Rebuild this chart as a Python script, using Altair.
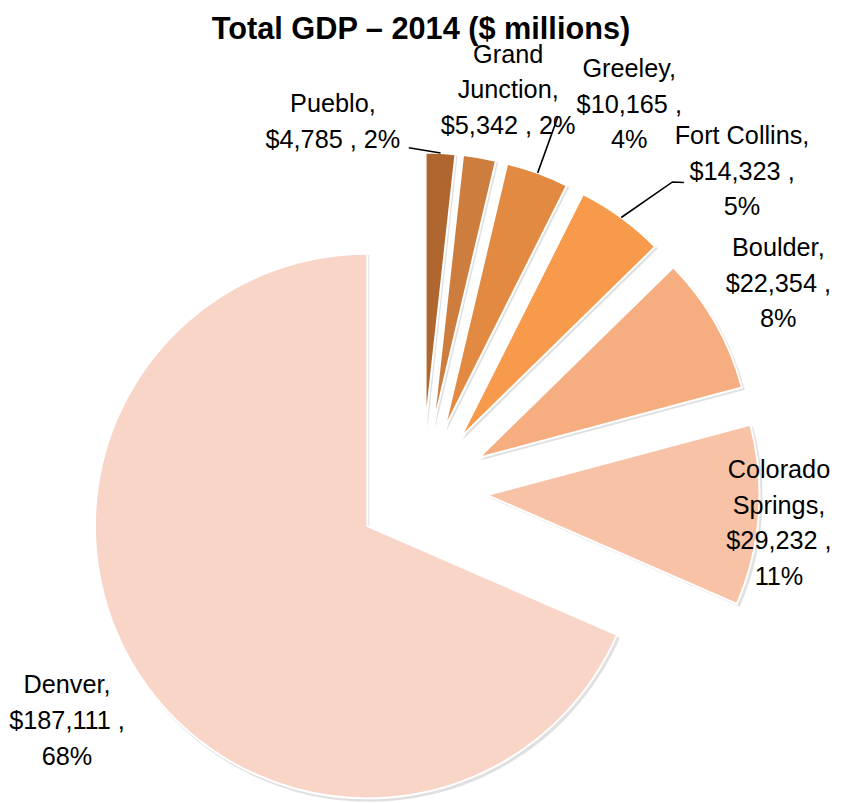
import math
import altair as alt
import pandas as pd

# ---- data ----
cities = ["Pueblo", "Grand Junction", "Greeley", "Fort Collins",
          "Boulder", "Colorado Springs", "Denver"]
gdp = [4785, 5342, 10165, 14323, 22354, 29232, 187111]

# ---- styles ----
colors = ["#B0672F", "#CD7D3D", "#E28A42", "#F79A4B",
          "#F6AD80", "#F8C2A6", "#F8D5C6"]
FONT = "Liberation Sans, Arial, sans-serif"

# ---- layout ----
W, H = 826, 737          # plot area
PAD_TOP = 50
CX, CY = 418, 433        # pie centre (chart coordinates)
R = 275                  # pie radius
EXPLODE = 66             # distance every slice is pulled out from the centre

# label wrapping and placement of each label's first line
# (polar, relative to pie centre)
label_formats = [
    "{name},\n{val} , {pct}",
    "{n0}\n{n1},\n{val} , {pct}",
    "{name},\n{val} ,\n{pct}",
    "{name},\n{val} ,\n{pct}",
    "{name},\n{val} ,\n{pct}",
    "{n0}\n{n1},\n{val} ,\n{pct}",
    "{name},\n{val} ,\n{pct}",
]
label_angle_deg = [347.0, 11.2, 26.2, 42.1, 55.8, 86.8, 241.2]
label_radius = [400, 448, 474, 482, 435, 361, 409]

# leader lines: slice -> label elbow points (polar, relative to pie centre)
leader_city = ["Pueblo", "Greeley", "Fort Collins", "Fort Collins"]
leader_angle_deg = [357.8, 20.0, 39.1, 40.4]
leader_radius = [346, 402, 401, 408]

# ---- tables built from the lists ----
total = sum(gdp)
rows = []
for i, (c, v) in enumerate(zip(cities, gdp)):
    parts = c.split(" ")
    text = label_formats[i].format(
        name=c, n0=parts[0], n1=" ".join(parts[1:]),
        val=f"${v:,}", pct=f"{round(v / total * 100)}%")
    rows.append(dict(city=c, gdp=v, order=i, label=text,
                     la=math.radians(label_angle_deg[i]), lr=label_radius[i]))
df = pd.DataFrame(rows)

mid_angle = {}
cum = 0
for c, v in zip(cities, gdp):
    mid_angle[c] = 2 * math.pi * (cum + v / 2) / total
    cum += v
lead_rows = []
for c in dict.fromkeys(leader_city):
    lead_rows.append(dict(city=c, seq=0, a=mid_angle[c], r=R + EXPLODE))
for k, (c, a, r) in enumerate(zip(leader_city, leader_angle_deg, leader_radius)):
    lead_rows.append(dict(city=c, seq=k + 1, a=math.radians(a), r=r))
df_lead = pd.DataFrame(lead_rows)

base = alt.Chart(df).transform_joinaggregate(
    total="sum(gdp)"
).transform_window(
    cum="sum(gdp)", sort=[alt.SortField("order")], frame=[None, 0]
).transform_calculate(
    start="2*PI*(datum.cum-datum.gdp)/datum.total",
    end="2*PI*datum.cum/datum.total",
    mid="(datum.start+datum.end)/2",
    cx=f"{CX}+{EXPLODE}*sin(datum.mid)",
    cy=f"{CY}-{EXPLODE}*cos(datum.mid)",
    sx=f"{CX}+{EXPLODE}*sin(datum.mid)+2",
    sy=f"{CY}-{EXPLODE}*cos(datum.mid)+2.5",
    lx=f"{CX}+datum.lr*sin(datum.la)",
    ly=f"{CY}-datum.lr*cos(datum.la)",
)

shadow = base.mark_arc(radius=R + 1, fill="#000000", opacity=0.12).encode(
    x=alt.X("sx:Q", scale=None, axis=None),
    y=alt.Y("sy:Q", scale=None, axis=None),
    theta=alt.Theta("start:Q", scale=None),
    theta2="end:Q",
)

arcs = base.mark_arc(radius=R, stroke="white", strokeWidth=2).encode(
    x=alt.X("cx:Q", scale=None, axis=None),
    y=alt.Y("cy:Q", scale=None, axis=None),
    theta=alt.Theta("start:Q", scale=None),
    theta2="end:Q",
    color=alt.Color("city:N", scale=alt.Scale(domain=cities, range=colors),
                    legend=None),
    tooltip=["city:N", alt.Tooltip("gdp:Q", format="$,")],
)

labels = base.mark_text(
    font=FONT, fontSize=25.5, lineHeight=36, lineBreak="\n",
    align="center", baseline="middle", color="#000000",
).encode(
    x=alt.X("lx:Q", scale=None, axis=None),
    y=alt.Y("ly:Q", scale=None, axis=None),
    text="label:N",
)

leaders = alt.Chart(df_lead).transform_calculate(
    px=f"{CX}+datum.r*sin(datum.a)",
    py=f"{CY}-datum.r*cos(datum.a)",
).mark_line(color="#000000", strokeWidth=1.6).encode(
    x=alt.X("px:Q", scale=None, axis=None),
    y=alt.Y("py:Q", scale=None, axis=None),
    detail="city:N",
    order="seq:Q",
)

chart = alt.layer(shadow, arcs, leaders, labels).properties(
    width=W, height=H,
    autosize=alt.AutoSizeParams(type="none"),
    padding={"left": 0, "top": PAD_TOP, "right": 8, "bottom": 8},
    title=alt.TitleParams(
        "Total GDP – 2014 ($ millions)", font=FONT, fontSize=31,
        fontWeight="bold", color="#000000", anchor="middle",
        frame="group", baseline="alphabetic", offset=20, dx=4, dy=47,
    ),
).configure_view(stroke=None)

chart.save("out.html", embed_options={"renderer": "svg", "actions": False})
